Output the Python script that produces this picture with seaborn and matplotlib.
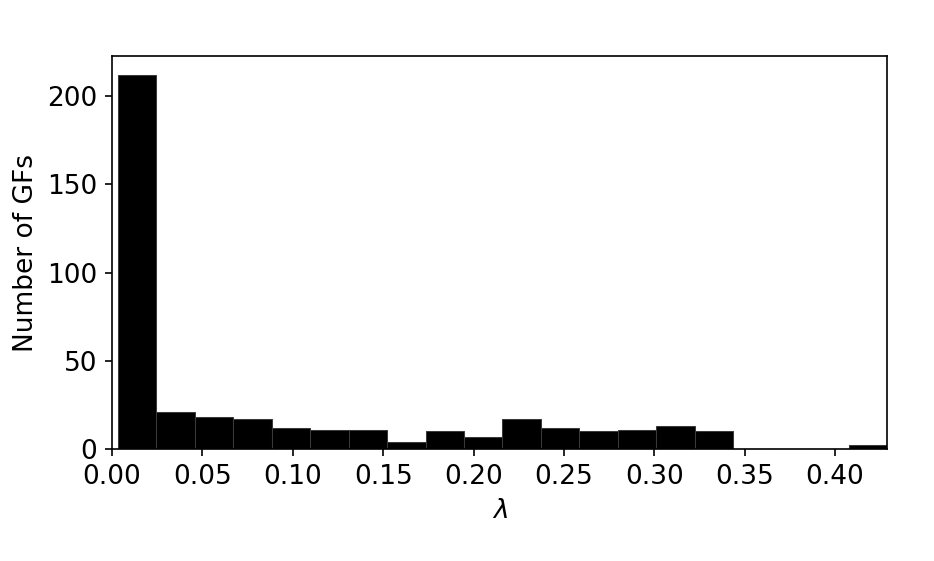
import numpy as np
import pandas as pd
import matplotlib
matplotlib.use("Agg")
import matplotlib.pyplot as plt
import seaborn as sns

# Histogram bin range and counts
bin_start = 0.0032
bin_stop = 0.4288
n_bins = 20
counts = [212, 21, 18, 17, 12, 11, 11, 4, 10, 7, 17, 12, 10, 11, 13, 10, 0, 0, 0, 2]

edges = np.linspace(bin_start, bin_stop, n_bins + 1)
centers = (edges[:-1] + edges[1:]) / 2
df = pd.DataFrame({"lam": centers, "n": counts})

sns.set_style("ticks")
plt.rcParams["font.family"] = ["DejaVu Sans"]
plt.rcParams["text.color"] = "black"
plt.rcParams["axes.labelcolor"] = "black"
fs = 12.7
plt.rcParams["font.size"] = fs

fig, ax = plt.subplots(figsize=(934 / 150, 561 / 150), dpi=150)
fig.subplots_adjust(left=0.12, right=0.9497, top=0.9, bottom=0.1996)

sns.histplot(data=df, x="lam", weights="n", bins=n_bins,
             binrange=(bin_start, bin_stop), color="black",
             edgecolor="#3a3a3a", linewidth=0.5, alpha=1, ax=ax)

ax.set_xlim(0, bin_stop)
ax.set_xticks(np.arange(0, 0.41, 0.05))
ax.set_xticklabels([f"{v:.2f}" for v in np.arange(0, 0.41, 0.05)])
ax.set_yticks([0, 50, 100, 150, 200])
ax.set_xlabel(r"$\lambda$", fontsize=fs, color="black")
ax.set_ylabel("Number of GFs", fontsize=fs, color="black")
ax.tick_params(labelsize=fs, direction="out", length=3.5, width=0.8,
               colors="black", labelcolor="black")
for s in ax.spines.values():
    s.set_visible(True)
    s.set_color("black")
    s.set_linewidth(0.8)

fig.savefig("out.png", dpi=150)
